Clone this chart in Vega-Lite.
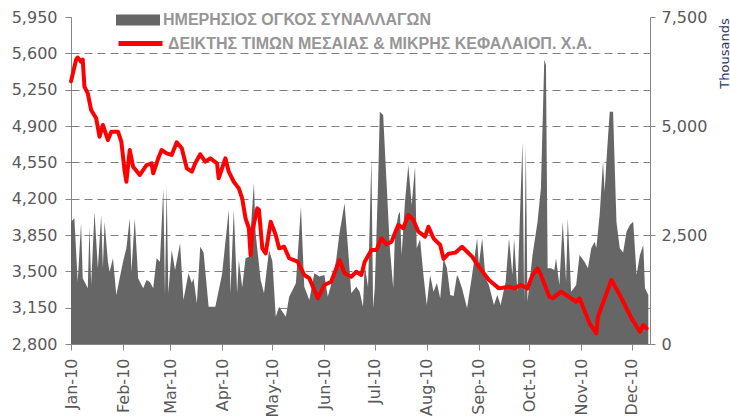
{
  "$schema": "https://vega.github.io/schema/vega-lite/v6.json",
  "width": 579,
  "height": 327,
  "autosize": {"type": "none"},
  "padding": {"left": 71, "top": 17, "right": 80, "bottom": 76},
  "background": "white",
  "config": {
    "view": {"stroke": null},
    "axis": {
      "labelFont": "DejaVu Sans",
      "labelFontSize": 16,
      "labelColor": "#595959",
      "domainColor": "#868686",
      "tickColor": "#868686",
      "domainWidth": 1,
      "tickSize": 5
    }
  },
  "datasets": {
    "vol": [
      {"d": "2010-01-01", "v": 2806}, {"d": "2010-01-03", "v": 2883}, {"d": "2010-01-05", "v": 1430},
      {"d": "2010-01-07", "v": 2768}, {"d": "2010-01-08", "v": 1507}, {"d": "2010-01-11", "v": 1277},
      {"d": "2010-01-12", "v": 2691}, {"d": "2010-01-13", "v": 1353}, {"d": "2010-01-15", "v": 3035},
      {"d": "2010-01-17", "v": 1737}, {"d": "2010-01-19", "v": 2959}, {"d": "2010-01-20", "v": 1737},
      {"d": "2010-01-21", "v": 2806}, {"d": "2010-01-23", "v": 1889}, {"d": "2010-01-24", "v": 1659},
      {"d": "2010-01-26", "v": 1966}, {"d": "2010-01-28", "v": 1124}, {"d": "2010-01-30", "v": 1507},
      {"d": "2010-02-01", "v": 1889}, {"d": "2010-02-03", "v": 2195}, {"d": "2010-02-05", "v": 2883},
      {"d": "2010-02-06", "v": 1659}, {"d": "2010-02-08", "v": 2883}, {"d": "2010-02-10", "v": 1507},
      {"d": "2010-02-13", "v": 1277}, {"d": "2010-02-15", "v": 1468}, {"d": "2010-02-17", "v": 1420},
      {"d": "2010-02-19", "v": 1277}, {"d": "2010-02-21", "v": 1966}, {"d": "2010-02-23", "v": 1889},
      {"d": "2010-02-25", "v": 3572}, {"d": "2010-02-26", "v": 1124}, {"d": "2010-02-27", "v": 3647},
      {"d": "2010-02-28", "v": 1163}, {"d": "2010-03-02", "v": 2156}, {"d": "2010-03-04", "v": 1698},
      {"d": "2010-03-07", "v": 2310}, {"d": "2010-03-09", "v": 1009}, {"d": "2010-03-12", "v": 1622},
      {"d": "2010-03-14", "v": 1400}, {"d": "2010-03-15", "v": 1500}, {"d": "2010-03-17", "v": 934},
      {"d": "2010-03-19", "v": 2232}, {"d": "2010-03-21", "v": 2100}, {"d": "2010-03-24", "v": 856},
      {"d": "2010-03-28", "v": 856}, {"d": "2010-04-01", "v": 1600}, {"d": "2010-04-05", "v": 3074},
      {"d": "2010-04-06", "v": 1163}, {"d": "2010-04-08", "v": 3074}, {"d": "2010-04-10", "v": 1163},
      {"d": "2010-04-11", "v": 1927}, {"d": "2010-04-13", "v": 1300}, {"d": "2010-04-15", "v": 1966},
      {"d": "2010-04-17", "v": 2000}, {"d": "2010-04-20", "v": 3700}, {"d": "2010-04-21", "v": 2539},
      {"d": "2010-04-24", "v": 1468}, {"d": "2010-04-26", "v": 1163}, {"d": "2010-04-29", "v": 2156},
      {"d": "2010-05-01", "v": 1900}, {"d": "2010-05-03", "v": 626}, {"d": "2010-05-05", "v": 856},
      {"d": "2010-05-09", "v": 626}, {"d": "2010-05-11", "v": 1086}, {"d": "2010-05-15", "v": 1392},
      {"d": "2010-05-18", "v": 3150}, {"d": "2010-05-20", "v": 1315}, {"d": "2010-05-23", "v": 1009},
      {"d": "2010-05-26", "v": 1622}, {"d": "2010-05-29", "v": 1550}, {"d": "2010-06-01", "v": 1583},
      {"d": "2010-06-03", "v": 1086}, {"d": "2010-06-06", "v": 1500}, {"d": "2010-06-08", "v": 1927},
      {"d": "2010-06-10", "v": 2539}, {"d": "2010-06-13", "v": 3227}, {"d": "2010-06-15", "v": 2232},
      {"d": "2010-06-17", "v": 1163}, {"d": "2010-06-20", "v": 1315}, {"d": "2010-06-22", "v": 1200},
      {"d": "2010-06-24", "v": 856}, {"d": "2010-06-25", "v": 1812}, {"d": "2010-06-27", "v": 1300},
      {"d": "2010-06-29", "v": 4259}, {"d": "2010-06-30", "v": 819}, {"d": "2010-07-01", "v": 1277},
      {"d": "2010-07-03", "v": 3723}, {"d": "2010-07-04", "v": 5329}, {"d": "2010-07-06", "v": 5253},
      {"d": "2010-07-08", "v": 3723}, {"d": "2010-07-10", "v": 2195}, {"d": "2010-07-12", "v": 1277},
      {"d": "2010-07-13", "v": 2500}, {"d": "2010-07-15", "v": 2959}, {"d": "2010-07-16", "v": 3035},
      {"d": "2010-07-17", "v": 2042}, {"d": "2010-07-19", "v": 3264}, {"d": "2010-07-21", "v": 4106},
      {"d": "2010-07-23", "v": 3189}, {"d": "2010-07-25", "v": 4067}, {"d": "2010-07-26", "v": 2195},
      {"d": "2010-07-28", "v": 2400}, {"d": "2010-07-30", "v": 1583}, {"d": "2010-08-01", "v": 895},
      {"d": "2010-08-03", "v": 1583}, {"d": "2010-08-05", "v": 1200}, {"d": "2010-08-07", "v": 1400},
      {"d": "2010-08-09", "v": 1048}, {"d": "2010-08-11", "v": 1966}, {"d": "2010-08-13", "v": 1737},
      {"d": "2010-08-15", "v": 1124}, {"d": "2010-08-17", "v": 1100}, {"d": "2010-08-19", "v": 1583},
      {"d": "2010-08-20", "v": 1507}, {"d": "2010-08-22", "v": 1277}, {"d": "2010-08-25", "v": 819},
      {"d": "2010-08-28", "v": 1583}, {"d": "2010-08-31", "v": 2424}, {"d": "2010-09-01", "v": 1812},
      {"d": "2010-09-03", "v": 2424}, {"d": "2010-09-05", "v": 1507}, {"d": "2010-09-07", "v": 1353},
      {"d": "2010-09-10", "v": 895}, {"d": "2010-09-12", "v": 1124}, {"d": "2010-09-14", "v": 895},
      {"d": "2010-09-17", "v": 1430}, {"d": "2010-09-19", "v": 2424}, {"d": "2010-09-21", "v": 1583},
      {"d": "2010-09-22", "v": 2424}, {"d": "2010-09-24", "v": 1200}, {"d": "2010-09-27", "v": 4641},
      {"d": "2010-09-28", "v": 971}, {"d": "2010-09-29", "v": 4565}, {"d": "2010-09-30", "v": 971},
      {"d": "2010-10-03", "v": 2042}, {"d": "2010-10-06", "v": 2806}, {"d": "2010-10-08", "v": 3572},
      {"d": "2010-10-10", "v": 6515}, {"d": "2010-10-11", "v": 6400}, {"d": "2010-10-12", "v": 1737},
      {"d": "2010-10-14", "v": 1737}, {"d": "2010-10-16", "v": 1700}, {"d": "2010-10-17", "v": 1966},
      {"d": "2010-10-19", "v": 1353}, {"d": "2010-10-21", "v": 2806}, {"d": "2010-10-23", "v": 1430},
      {"d": "2010-10-24", "v": 2883}, {"d": "2010-10-26", "v": 1200}, {"d": "2010-10-29", "v": 1353},
      {"d": "2010-10-31", "v": 2042}, {"d": "2010-11-03", "v": 1889}, {"d": "2010-11-05", "v": 1737},
      {"d": "2010-11-07", "v": 2195}, {"d": "2010-11-09", "v": 2347}, {"d": "2010-11-10", "v": 2200},
      {"d": "2010-11-12", "v": 2959}, {"d": "2010-11-14", "v": 4182}, {"d": "2010-11-15", "v": 3494},
      {"d": "2010-11-16", "v": 4182}, {"d": "2010-11-18", "v": 5329}, {"d": "2010-11-20", "v": 5329},
      {"d": "2010-11-22", "v": 2806}, {"d": "2010-11-24", "v": 2195}, {"d": "2010-11-26", "v": 2100},
      {"d": "2010-11-28", "v": 2576}, {"d": "2010-11-30", "v": 2730}, {"d": "2010-12-02", "v": 2806},
      {"d": "2010-12-04", "v": 1583}, {"d": "2010-12-06", "v": 2042}, {"d": "2010-12-08", "v": 2271},
      {"d": "2010-12-09", "v": 1277}, {"d": "2010-12-11", "v": 1124}
    ],
    "idx": [
      {"d": "2010-01-01", "i": 5330}, {"d": "2010-01-04", "i": 5536}, {"d": "2010-01-05", "i": 5560},
      {"d": "2010-01-07", "i": 5520}, {"d": "2010-01-08", "i": 5540}, {"d": "2010-01-09", "i": 5279},
      {"d": "2010-01-11", "i": 5215}, {"d": "2010-01-13", "i": 5054}, {"d": "2010-01-16", "i": 4974},
      {"d": "2010-01-18", "i": 4797}, {"d": "2010-01-20", "i": 4910}, {"d": "2010-01-23", "i": 4765},
      {"d": "2010-01-25", "i": 4845}, {"d": "2010-01-29", "i": 4845}, {"d": "2010-01-31", "i": 4749},
      {"d": "2010-02-02", "i": 4460}, {"d": "2010-02-03", "i": 4363}, {"d": "2010-02-05", "i": 4669},
      {"d": "2010-02-07", "i": 4508}, {"d": "2010-02-11", "i": 4428}, {"d": "2010-02-15", "i": 4524},
      {"d": "2010-02-18", "i": 4540}, {"d": "2010-02-19", "i": 4444}, {"d": "2010-02-22", "i": 4589},
      {"d": "2010-02-24", "i": 4669}, {"d": "2010-02-27", "i": 4637}, {"d": "2010-03-02", "i": 4621},
      {"d": "2010-03-05", "i": 4743}, {"d": "2010-03-08", "i": 4685}, {"d": "2010-03-11", "i": 4492},
      {"d": "2010-03-14", "i": 4460}, {"d": "2010-03-16", "i": 4540}, {"d": "2010-03-19", "i": 4627},
      {"d": "2010-03-22", "i": 4556}, {"d": "2010-03-25", "i": 4589}, {"d": "2010-03-29", "i": 4540},
      {"d": "2010-03-30", "i": 4396}, {"d": "2010-04-03", "i": 4589}, {"d": "2010-04-05", "i": 4460},
      {"d": "2010-04-08", "i": 4363}, {"d": "2010-04-11", "i": 4299}, {"d": "2010-04-13", "i": 4203},
      {"d": "2010-04-15", "i": 4011}, {"d": "2010-04-17", "i": 3915}, {"d": "2010-04-18", "i": 3657},
      {"d": "2010-04-19", "i": 3882}, {"d": "2010-04-22", "i": 4107}, {"d": "2010-04-23", "i": 4091},
      {"d": "2010-04-25", "i": 3722}, {"d": "2010-04-27", "i": 3673}, {"d": "2010-04-30", "i": 3978},
      {"d": "2010-05-03", "i": 3850}, {"d": "2010-05-05", "i": 3722}, {"d": "2010-05-08", "i": 3737},
      {"d": "2010-05-11", "i": 3626}, {"d": "2010-05-16", "i": 3593}, {"d": "2010-05-20", "i": 3465},
      {"d": "2010-05-23", "i": 3433}, {"d": "2010-05-28", "i": 3240}, {"d": "2010-06-01", "i": 3368},
      {"d": "2010-06-05", "i": 3400}, {"d": "2010-06-10", "i": 3609}, {"d": "2010-06-13", "i": 3481},
      {"d": "2010-06-17", "i": 3448}, {"d": "2010-06-20", "i": 3496}, {"d": "2010-06-23", "i": 3465},
      {"d": "2010-06-25", "i": 3593}, {"d": "2010-06-29", "i": 3705}, {"d": "2010-07-02", "i": 3705},
      {"d": "2010-07-05", "i": 3818}, {"d": "2010-07-08", "i": 3760}, {"d": "2010-07-11", "i": 3785},
      {"d": "2010-07-13", "i": 3866}, {"d": "2010-07-15", "i": 3946}, {"d": "2010-07-18", "i": 3915},
      {"d": "2010-07-21", "i": 4043}, {"d": "2010-07-24", "i": 3994}, {"d": "2010-07-27", "i": 3882},
      {"d": "2010-07-31", "i": 3834}, {"d": "2010-08-02", "i": 3930}, {"d": "2010-08-05", "i": 3818},
      {"d": "2010-08-09", "i": 3754}, {"d": "2010-08-11", "i": 3620}, {"d": "2010-08-14", "i": 3670},
      {"d": "2010-08-18", "i": 3680}, {"d": "2010-08-22", "i": 3737}, {"d": "2010-08-28", "i": 3641},
      {"d": "2010-09-01", "i": 3545}, {"d": "2010-09-07", "i": 3417}, {"d": "2010-09-13", "i": 3336},
      {"d": "2010-09-19", "i": 3352}, {"d": "2010-09-22", "i": 3336}, {"d": "2010-09-26", "i": 3368},
      {"d": "2010-09-30", "i": 3336}, {"d": "2010-10-03", "i": 3465}, {"d": "2010-10-06", "i": 3529},
      {"d": "2010-10-08", "i": 3465}, {"d": "2010-10-13", "i": 3256}, {"d": "2010-10-15", "i": 3240},
      {"d": "2010-10-20", "i": 3304}, {"d": "2010-10-23", "i": 3272}, {"d": "2010-10-29", "i": 3207},
      {"d": "2010-10-31", "i": 3240}, {"d": "2010-11-06", "i": 2999}, {"d": "2010-11-10", "i": 2903},
      {"d": "2010-11-11", "i": 3063}, {"d": "2010-11-19", "i": 3417}, {"d": "2010-11-24", "i": 3272},
      {"d": "2010-12-01", "i": 3047}, {"d": "2010-12-06", "i": 2918}, {"d": "2010-12-08", "i": 2983},
      {"d": "2010-12-10", "i": 2951}
    ]
  },
  "layer": [
    {
      "data": {"name": "vol"},
      "mark": {"type": "area", "interpolate": "linear"},
      "encoding": {
        "x": {
          "field": "d", "type": "temporal",
          "scale": {"type": "utc", "domain": [{"year": 2010, "month": 1, "date": 1, "utc": true}, {"year": 2010, "month": 12, "date": 12, "utc": true}]},
          "axis": {"title": null, "format": "%b-%y", "tickCount": {"interval": "month", "step": 1}, "labelAngle": 270, "labelAlign": "right", "labelBaseline": "middle", "tickSize": 6, "labelPadding": 8, "grid": false, "labelFlush": false, "labelOverlap": false}
        },
        "y": {
          "field": "v", "type": "quantitative",
          "scale": {"domain": [0, 7500], "nice": false, "zero": true},
          "axis": {"orient": "right", "values": [0, 2500, 5000, 7500], "format": ",d", "grid": false, "tickSize": 5, "labelPadding": 6,
                   "title": "Thousands", "titleColor": "#1F3864", "titleFont": "DejaVu Sans", "titleFontSize": 13, "titleFontWeight": "normal",
                   "titleAngle": 270, "titleAlign": "center", "titleBaseline": "middle", "titleX": 74, "titleY": 36}
        },
        "fill": {
          "datum": "ΗΜΕΡΗΣΙΟΣ ΟΓΚΟΣ ΣΥΝΑΛΛΑΓΩΝ", "type": "nominal",
          "scale": {"range": ["#666666"]},
          "legend": {"orient": "none", "legendX": 45, "legendY": -19, "title": null, "padding": 0,
                     "symbolType": "M-1,-0.25H1V0.25H-1Z", "symbolSize": 1936, "symbolStrokeWidth": 0,
                     "labelFont": "Liberation Sans", "labelFontWeight": "bold", "labelFontSize": 16, "labelColor": "#969696",
                     "labelOffset": 3, "labelLimit": 700}
        }
      }
    },
    {
      "data": {"name": "idx"},
      "mark": {"type": "line", "strokeWidth": 4, "strokeCap": "round", "strokeJoin": "round"},
      "encoding": {
        "x": {
          "field": "d", "type": "temporal",
          "scale": {"type": "utc", "domain": [{"year": 2010, "month": 1, "date": 1, "utc": true}, {"year": 2010, "month": 12, "date": 12, "utc": true}]},
          "axis": {"title": null, "format": "%b-%y", "tickCount": {"interval": "month", "step": 1}, "labelAngle": 270, "labelAlign": "right", "labelBaseline": "middle", "tickSize": 6, "labelPadding": 8, "grid": false, "labelFlush": false, "labelOverlap": false}
        },
        "y": {
          "field": "i", "type": "quantitative",
          "scale": {"domain": [2800, 5950], "nice": false, "zero": false},
          "axis": {"orient": "left", "values": [2800, 3150, 3500, 3850, 4200, 4550, 4900, 5250, 5600, 5950], "format": ",d",
                   "title": null, "tickSize": 6, "labelPadding": 8,
                   "grid": true, "gridColor": "#7f7f7f", "gridDash": [8, 5], "gridWidth": 1,
                   "gridOpacity": {"condition": {"test": "datum.value >= 5950 || datum.value <= 2800", "value": 0}, "value": 1}}
        },
        "stroke": {
          "datum": "ΔΕΙΚΤΗΣ ΤΙΜΩΝ ΜΕΣΑΙΑΣ & ΜΙΚΡΗΣ ΚΕΦΑΛΑΙΟΠ.  Χ.Α.", "type": "nominal",
          "scale": {"range": ["#ff0000"]},
          "legend": {"orient": "none", "legendX": 45, "legendY": 2, "title": null, "padding": 0,
                     "symbolType": "stroke", "symbolSize": 1936, "symbolStrokeWidth": 5,
                     "labelFont": "Liberation Sans", "labelFontWeight": "bold", "labelFontSize": 16, "labelColor": "#969696",
                     "labelOffset": 3, "labelLimit": 700}
        }
      }
    }
  ],
  "resolve": {"scale": {"y": "independent", "fill": "independent", "stroke": "independent"}}
}
